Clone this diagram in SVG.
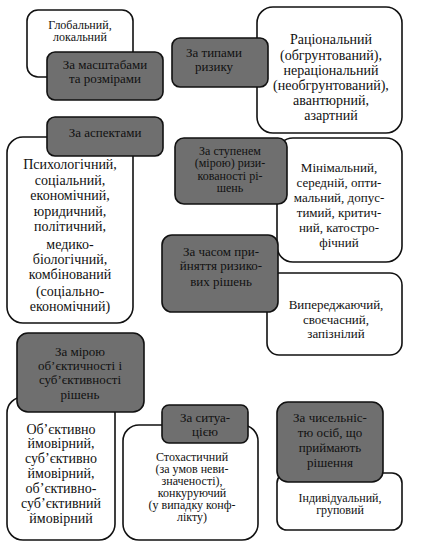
<svg xmlns="http://www.w3.org/2000/svg" width="425" height="547" viewBox="0 0 425 547">
<style>
.w{fill:#fff;stroke:#111;stroke-width:1.6}
.g{fill:#6f6f6f;stroke:#111;stroke-width:1.6}
.t{font-size:14px}
.s{font-size:13px}
.x{font-size:12px}
</style>
<rect width="425" height="547" fill="#fff"/>
<g font-family="Liberation Serif" fill="#111" text-anchor="middle">
<g id="n1v"><rect class="w" x="27" y="10" width="106" height="67" rx="11"/>
<text class="x"><tspan x="80" y="29">Глобальний,</tspan><tspan x="80" y="41">локальний</tspan></text></g>
<g id="n1"><rect class="g" x="47" y="52" width="116" height="48" rx="8"/>
<text class="s"><tspan x="105" y="69">За масштабами</tspan><tspan x="105" y="83">та розмірами</tspan></text></g>
<g id="n2v"><rect class="w" x="257" y="7" width="145" height="126" rx="16"/>
<text class="t"><tspan x="331" y="44">Раціональний</tspan><tspan x="331" y="60">(обгрунтований),</tspan><tspan x="331" y="75">нераціональний</tspan><tspan x="331" y="90">(необгрунтований),</tspan><tspan x="331" y="105">авантюрний,</tspan><tspan x="331" y="120">азартний</tspan></text></g>
<g id="n2"><rect class="g" x="172" y="38" width="96" height="49" rx="8"/>
<text class="s"><tspan x="214" y="57">За типами</tspan><tspan x="214" y="71">ризику</tspan></text></g>
<g id="n3v"><rect class="w" x="7" y="137" width="126" height="186" rx="16"/>
<text class="t"><tspan x="70" y="169">Психологічний,</tspan><tspan x="70" y="185">соціальний,</tspan><tspan x="70" y="200">економічний,</tspan><tspan x="70" y="216">юридичний,</tspan><tspan x="70" y="231">політичний,</tspan><tspan x="70" y="249">медико-</tspan><tspan x="70" y="264">біологічний,</tspan><tspan x="70" y="279">комбінований</tspan><tspan x="70" y="296">(соціально-</tspan><tspan x="70" y="311">економічний)</tspan></text></g>
<g id="n3"><rect class="g" x="47" y="117" width="116" height="39" rx="8"/>
<text class="s"><tspan x="105" y="137">За аспектами</tspan></text></g>
<g id="n4v"><rect class="w" x="277" y="138" width="125" height="124" rx="16"/>
<text class="s"><tspan x="339" y="172">Мінімальний,</tspan><tspan x="339" y="187">середній, опти-</tspan><tspan x="339" y="202">мальний, допус-</tspan><tspan x="339" y="217">тимий, критич-</tspan><tspan x="339" y="232">ний, катостро-</tspan><tspan x="339" y="247">фічний</tspan></text></g>
<g id="n4"><rect class="g" x="175" y="138" width="112" height="66" rx="9"/>
<text class="x"><tspan x="230" y="155">За ступенем</tspan><tspan x="230" y="167">(мірою) ризи-</tspan><tspan x="230" y="180">кованості рі-</tspan><tspan x="230" y="192">шень</tspan></text></g>
<g id="n5v"><rect class="w" x="267" y="273" width="135" height="82" rx="12"/>
<text class="s"><tspan x="336" y="309">Випереджаючий,</tspan><tspan x="336" y="324">своєчасний,</tspan><tspan x="336" y="338">запізнілий</tspan></text></g>
<g id="n5"><rect class="g" x="162" y="235" width="116" height="77" rx="10"/>
<text class="s"><tspan x="221" y="256">За часом при-</tspan><tspan x="221" y="270">йняття ризико-</tspan><tspan x="221" y="286">вих рішень</tspan></text></g>
<g id="n6v"><rect class="w" x="7" y="397" width="108" height="143" rx="16"/>
<text class="t"><tspan x="61" y="434">Об’єктивно</tspan><tspan x="61" y="448">ймовірний,</tspan><tspan x="61" y="463">суб’єктивно</tspan><tspan x="61" y="478">ймовірний,</tspan><tspan x="61" y="493">об’єктивно-</tspan><tspan x="61" y="508">суб’єктивний</tspan><tspan x="61" y="523">ймовірний</tspan></text></g>
<g id="n6"><rect class="g" x="17" y="333" width="127" height="79" rx="11"/>
<text class="s"><tspan x="80" y="356">За мірою</tspan><tspan x="80" y="370">об’єктичності і</tspan><tspan x="80" y="384">суб’єктивності</tspan><tspan x="80" y="399">рішень</tspan></text></g>
<g id="n7v"><rect class="w" x="123" y="425" width="135" height="115" rx="16"/>
<text class="x"><tspan x="192" y="461">Стохастичний</tspan><tspan x="192" y="473">(за умов неви-</tspan><tspan x="192" y="485">значеності),</tspan><tspan x="192" y="497">конкуруючий</tspan><tspan x="192" y="509">(у випадку конф-</tspan><tspan x="192" y="521">лікту)</tspan></text></g>
<g id="n7"><rect class="g" x="162" y="405" width="86" height="38" rx="7"/>
<text class="s"><tspan x="205" y="422">За ситуа-</tspan><tspan x="205" y="436">цією</tspan></text></g>
<g id="n8v"><rect class="w" x="277" y="473" width="125" height="57" rx="10"/>
<text class="x"><tspan x="340" y="502">Індивідуальний,</tspan><tspan x="340" y="514">груповий</tspan></text></g>
<g id="n8"><rect class="g" x="277" y="402" width="106" height="80" rx="11"/>
<text class="s"><tspan x="330" y="422">За чисельніс-</tspan><tspan x="330" y="437">тю осіб, що</tspan><tspan x="330" y="452">приймають</tspan><tspan x="330" y="467">рішення</tspan></text></g>
</g>
<g id="connectors"></g>
</svg>
